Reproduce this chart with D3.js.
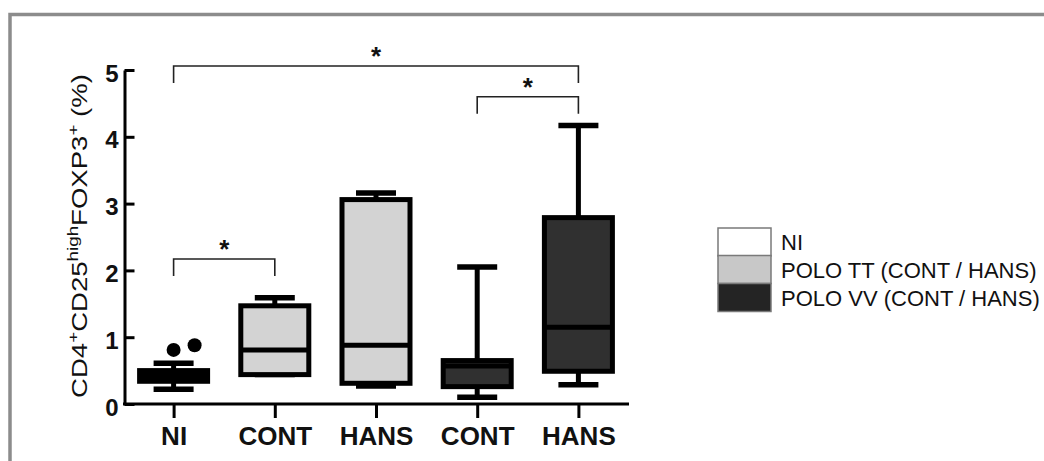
<!DOCTYPE html>
<html>
<head>
<meta charset="utf-8">
<script src="https://cdn.jsdelivr.net/npm/d3@7/dist/d3.min.js"></script>
<style>
  html, body { margin: 0; padding: 0; background: #fff; }
  svg { display: block; }
  text { font-family: "Liberation Sans", Arial, sans-serif; }
</style>
</head>
<body>
<svg id="chart" width="1044" height="461"></svg>
<script>
// Box-plot summaries per column (% of CD4+CD25high FOXP3+ cells)
const categories   = ["NI", "CONT", "HANS", "CONT", "HANS"];
const groupOf      = [0, 1, 1, 2, 2];            // index into legendLabels
const whiskerLow   = [0.22, 0.44, 0.27, 0.10, 0.29];
const quartile1    = [0.34, 0.44, 0.31, 0.26, 0.49];
const medians      = [0.40, 0.81, 0.88, 0.57, 1.15];
const quartile3    = [0.50, 1.47, 3.06, 0.65, 2.79];
const whiskerHigh  = [0.61, 1.59, 3.16, 2.05, 4.17];
const outliers     = [[0.81, 0.88], [], [], [], []];

const yTicks = [0, 1, 2, 3, 4, 5];

const legendLabels = ["NI", "POLO TT (CONT / HANS)", "POLO VV (CONT / HANS)"];
const legendFills  = ["#ffffff", "#c8c8c8", "#242424"];
const boxFills     = ["#000000", "#d3d3d3", "#303030"];

// Significance brackets: column pairs, height in axis units, label
const bracketFrom   = [0, 0, 3];
const bracketTo     = [1, 4, 4];
const bracketHeight = [2.17, 5.06, 4.60];
const bracketLabel  = ["*", "*", "*"];

const svg = d3.select("#chart");

// outer frame
svg.append("rect")
  .attr("x", 10).attr("y", 14.5)
  .attr("width", 1100).attr("height", 500)
  .attr("fill", "none").attr("stroke", "#8c8c8c").attr("stroke-width", 3.5);

const x = d3.scalePoint().domain(d3.range(categories.length)).range([123, 629]).padding(0.5);
const y = d3.scaleLinear().domain([0, 5]).range([404, 70]);

const plot = svg.append("g");

// y axis (ticks point inward)
const yAxis = plot.append("g")
  .attr("transform", "translate(124.5,0)")
  .call(d3.axisLeft(y).tickValues(yTicks).tickSize(-10).tickSizeOuter(0).tickPadding(6).tickFormat(d3.format("d")));
yAxis.select(".domain").attr("stroke", "#000").attr("stroke-width", 3);
yAxis.selectAll(".tick line").attr("stroke", "#000").attr("stroke-width", 3);
yAxis.selectAll(".tick text")
  .attr("dy", "0.46em")
  .attr("fill", "#111")
  .style("font-size", "24px").style("font-weight", "bold");

// x axis
const xAxis = plot.append("g")
  .attr("transform", `translate(0,${y(0)})`)
  .call(d3.axisBottom(x).tickSize(14).tickSizeOuter(0).tickPadding(9).tickFormat(i => categories[i]));
xAxis.select(".domain").attr("stroke", "#000").attr("stroke-width", 3)
  .attr("d", `M${x.range()[0]},0H${x.range()[1]}`);
xAxis.selectAll(".tick line").attr("stroke", "#000").attr("stroke-width", 3);
xAxis.selectAll(".tick text")
  .attr("fill", "#111")
  .attr("dy", "0.71em")
  .style("font-size", "26px").style("font-weight", "bold");

// boxes
const halfBox = 34, halfCap = 20;
const cols = d3.range(categories.length);
const boxG = plot.append("g");

boxG.selectAll("line.whisker").data(cols).join("line")
  .attr("class", "whisker")
  .attr("x1", i => x(i)).attr("x2", i => x(i))
  .attr("y1", i => y(whiskerLow[i])).attr("y2", i => y(whiskerHigh[i]))
  .attr("stroke", "#000").attr("stroke-width", 5);

boxG.selectAll("line.capLow").data(cols).join("line")
  .attr("class", "capLow")
  .attr("x1", i => x(i) - halfCap).attr("x2", i => x(i) + halfCap)
  .attr("y1", i => y(whiskerLow[i])).attr("y2", i => y(whiskerLow[i]))
  .attr("stroke", "#000").attr("stroke-width", 5.5);

boxG.selectAll("line.capHigh").data(cols).join("line")
  .attr("class", "capHigh")
  .attr("x1", i => x(i) - halfCap).attr("x2", i => x(i) + halfCap)
  .attr("y1", i => y(whiskerHigh[i])).attr("y2", i => y(whiskerHigh[i]))
  .attr("stroke", "#000").attr("stroke-width", 5.5);

boxG.selectAll("rect.box").data(cols).join("rect")
  .attr("class", "box")
  .attr("x", i => x(i) - halfBox).attr("width", halfBox * 2)
  .attr("y", i => y(quartile3[i])).attr("height", i => y(quartile1[i]) - y(quartile3[i]))
  .attr("fill", i => boxFills[groupOf[i]])
  .attr("stroke", "#000").attr("stroke-width", 5);

boxG.selectAll("line.median").data(cols).join("line")
  .attr("class", "median")
  .attr("x1", i => x(i) - halfBox).attr("x2", i => x(i) + halfBox)
  .attr("y1", i => y(medians[i])).attr("y2", i => y(medians[i]))
  .attr("stroke", "#000").attr("stroke-width", 5);

// outlying points; overlapping points are nudged sideways
const r = 7;
const pts = [];
cols.forEach(i => {
  let prevY = null, shift = 0;
  outliers[i].forEach(v => {
    const py = y(v);
    if (prevY !== null && Math.abs(py - prevY) < 2 * r) shift += 3 * r; else shift = 0;
    pts.push({ cx: x(i) + shift, cy: py });
    prevY = py;
  });
});
boxG.selectAll("circle").data(pts).join("circle")
  .attr("cx", d => d.cx).attr("cy", d => d.cy).attr("r", r).attr("fill", "#000");

// significance brackets
const legDrop = 17;
const brG = plot.append("g");
bracketFrom.forEach((f, k) => {
  const x1 = x(f), x2 = x(bracketTo[k]), by = y(bracketHeight[k]);
  brG.append("path")
    .attr("d", `M${x1},${by + legDrop}V${by}H${x2}V${by + legDrop}`)
    .attr("fill", "none").attr("stroke", "#222").attr("stroke-width", 1.6);
  brG.append("text")
    .attr("x", (x1 + x2) / 2).attr("y", by - 1)
    .attr("text-anchor", "middle")
    .attr("fill", "#111")
    .style("font-size", "26px").style("font-weight", "bold")
    .text(bracketLabel[k]);
});

// y axis title
const title = svg.append("text")
  .attr("text-anchor", "middle")
  .attr("fill", "#111")
  .style("font-size", "22px");
const parts = [
  { t: "CD4", sup: false }, { t: "+", sup: true },
  { t: "CD25", sup: false }, { t: "high", sup: true },
  { t: "FOXP3", sup: false }, { t: "+", sup: true },
  { t: "\u00a0(%)", sup: false }
];
let raised = false;
parts.forEach(p => {
  const ts = title.append("tspan").text(p.t);
  if (p.sup && !raised) { ts.attr("dy", -9).style("font-size", "15px"); raised = true; }
  else if (p.sup) { ts.style("font-size", "15px"); }
  else if (!p.sup && raised) { ts.attr("dy", 9); raised = false; }
});
const titleLen = title.node().getComputedTextLength();
const targetLen = 324;
title.attr("transform", `translate(87,236) rotate(-90) scale(${targetLen / titleLen},1)`);

// legend
const lg = svg.append("g");
const swY = [228, 255.5, 283.5], swH = 28;
legendLabels.forEach((lab, k) => {
  lg.append("rect")
    .attr("x", 718).attr("y", swY[k]).attr("width", 53).attr("height", swH)
    .attr("fill", legendFills[k]).attr("stroke", "#7a7a7a").attr("stroke-width", 1.5);
  lg.append("text")
    .attr("x", 781).attr("y", swY[k] + 22)
    .attr("fill", "#111")
    .style("font-size", "22px")
    .text(lab);
});
</script>
</body>
</html>
